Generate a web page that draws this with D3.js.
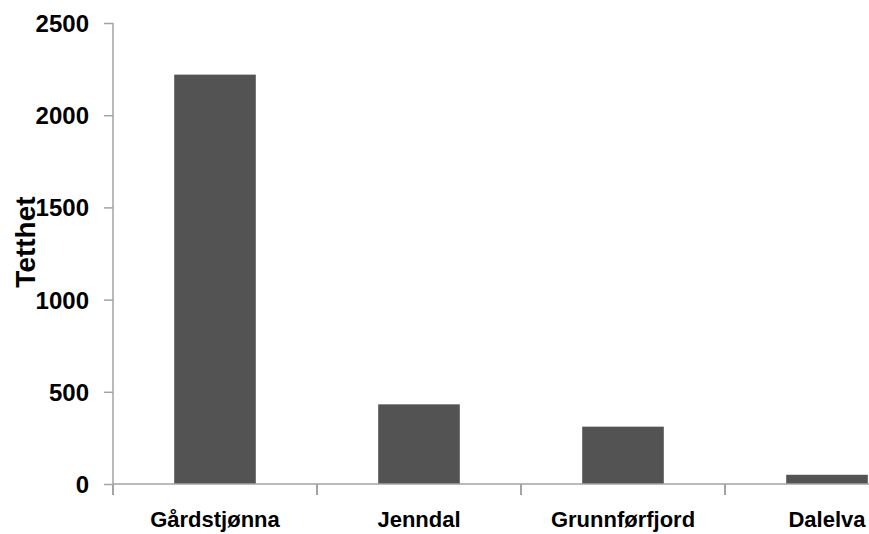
<!DOCTYPE html>
<html>
<head>
<meta charset="utf-8">
<script src="https://cdn.jsdelivr.net/npm/d3@7"></script>
<style>
  html, body { margin: 0; padding: 0; background: #fff; }
  svg { display: block; }
  text { font-family: "Liberation Sans", Arial, sans-serif; font-weight: bold; fill: #000; }
</style>
</head>
<body>
<svg id="chart" width="869" height="534"></svg>
<script>
// Density per site
const categories = ["Gårdstjønna", "Jenndal", "Grunnførfjord", "Dalelva"];
const values = [2220, 432, 311, 50];
const yTicks = [0, 500, 1000, 1500, 2000, 2500];
const yTitle = "Tetthet";

(function () {
  const svg = d3.select("#chart");
  const axisColor = "#a3a3a3";
  const barColor = "#535353";

  const plotLeft = 113, plotRight = 929, plotTop = 23, plotBottom = 484;

  const y = d3.scaleLinear().domain([0, 2500]).range([plotBottom, plotTop]);

  // Bars sit centred in each category slot
  const x = d3.scaleBand().domain(categories).range([plotLeft, plotRight])
    .paddingInner(0.6).paddingOuter(0.3);
  // Slot boundaries for the category tick marks
  const slots = d3.scaleBand().domain(categories).range([plotLeft, plotRight]).padding(0);

  // Bars
  svg.append("g").selectAll("rect").data(values).join("rect")
    .attr("x", (d, i) => x(categories[i]))
    .attr("y", d => y(d))
    .attr("width", x.bandwidth())
    .attr("height", d => y(0) - y(d))
    .attr("fill", barColor);

  // Y axis
  const yAxis = svg.append("g").attr("transform", `translate(${plotLeft},0)`)
    .call(d3.axisLeft(y).tickValues(yTicks).tickSize(9).tickPadding(15).tickFormat(d3.format("d")));
  yAxis.select(".domain").attr("stroke", axisColor).attr("stroke-width", 1.5)
    .attr("d", `M0,${y(2500)}V${y(0)}`);
  yAxis.selectAll(".tick line").attr("stroke", axisColor).attr("stroke-width", 1.5);
  yAxis.selectAll(".tick text").style("font-size", "24px").attr("fill", "#000")
    .attr("dy", "0.35em");

  // X axis
  const xg = svg.append("g");
  xg.append("line")
    .attr("x1", plotLeft).attr("x2", plotRight)
    .attr("y1", y(0)).attr("y2", y(0))
    .attr("stroke", axisColor).attr("stroke-width", 1.5);
  xg.selectAll("line.tick").data(categories).join("line").attr("class", "tick")
    .attr("x1", d => slots(d)).attr("x2", d => slots(d))
    .attr("y1", y(0)).attr("y2", y(0) + 11)
    .attr("stroke", axisColor).attr("stroke-width", 2);
  xg.selectAll("text").data(categories).join("text")
    .attr("x", d => x(d) + x.bandwidth() / 2)
    .attr("y", y(0) + 43)
    .attr("text-anchor", "middle")
    .style("font-size", "22px")
    .text(d => d);

  // Y axis title
  svg.append("text")
    .attr("transform", `translate(35,242) rotate(-90)`)
    .attr("text-anchor", "middle")
    .style("font-size", "28px")
    .text(yTitle);
})();
</script>
</body>
</html>
